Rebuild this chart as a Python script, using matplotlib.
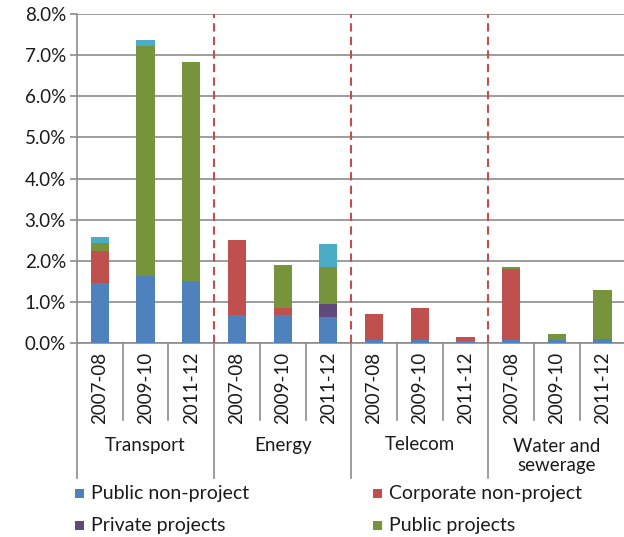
import matplotlib
matplotlib.use("Agg")
import matplotlib.pyplot as plt
from matplotlib.patches import Rectangle
from matplotlib.lines import Line2D
import numpy as np

plt.rcParams['font.family'] = ['Lato', 'DejaVu Sans']

sectors = ["Transport", "Energy", "Telecom", "Water and\nsewerage"]
periods = ["2007-08", "2009-10", "2011-12"]

public_nonproject = [1.45, 1.62, 1.50, 0.69, 0.68, 0.63, 0.08, 0.08, 0.05, 0.08, 0.07, 0.10]
corporate_nonproject = [0.79, 0.00, 0.00, 1.82, 0.17, 0.00, 0.63, 0.78, 0.10, 1.73, 0.00, 0.00]
private_projects = [0.00, 0.00, 0.00, 0.00, 0.00, 0.32, 0.00, 0.00, 0.00, 0.00, 0.00, 0.00]
public_projects = [0.19, 5.60, 5.33, 0.00, 1.04, 0.91, 0.00, 0.00, 0.00, 0.03, 0.14, 1.20]
other = [0.14, 0.15, 0.00, 0.00, 0.00, 0.55, 0.00, 0.00, 0.00, 0.00, 0.00, 0.00]

series = [public_nonproject, corporate_nonproject, private_projects, public_projects, other]
series_names = ["Public non-project", "Corporate non-project", "Private projects", "Public projects", None]
colors = ["#4F81BD", "#C0504D", "#604A7B", "#77933C", "#4BACC6"]
yticks = [0, 1, 2, 3, 4, 5, 6, 7, 8]

W, H = 624, 537
fig = plt.figure(figsize=(W / 100, H / 100), dpi=100)
x0, ytop, ybot = 77, 14, 343
step = 45.7
ax = fig.add_axes([x0 / W, (H - ybot) / H, 12 * step / W, (ybot - ytop) / H])

n = len(public_nonproject)
x = np.arange(n) + 0.5
bottom = np.zeros(n)
for vals, col in zip(series, colors):
    v = np.array(vals)
    ax.bar(x, v, width=0.4, bottom=bottom, color=col, edgecolor='none', zorder=3)
    bottom += v

ax.set_xlim(0, n)
ax.set_ylim(0, 8)
ax.set_yticks(yticks)
ax.set_yticklabels(["%.1f%%" % t for t in yticks], fontsize=13.5, color="#1a1a1a")
ax.yaxis.grid(True, color="#8C8C8C", linewidth=1.2, zorder=0)
ax.set_axisbelow(True)
ax.tick_params(axis='y', length=5, width=1.2, color="#8C8C8C", pad=3, direction='out')
ax.set_xticks([])
for s in ['top', 'right']:
    ax.spines[s].set_visible(False)
ax.spines['left'].set_color("#8C8C8C")
ax.spines['left'].set_linewidth(1.2)
ax.spines['bottom'].set_color("#8C8C8C")
ax.spines['bottom'].set_linewidth(1.2)

# dashed sector separators
for b in [3, 6, 9]:
    ax.plot([b, b], [0, 8], color="#C0504D", linestyle=(0, (4, 2.5)), linewidth=1.5, zorder=4, clip_on=False)

# category axis separators and labels
trans = ax.get_xaxis_transform()
def fy(py):
    return -(py - ybot) / (ybot - ytop)

for i in range(n + 1):
    low = 478 if i % 3 == 0 else 420
    ax.add_line(Line2D([i, i], [0, fy(low)], transform=trans, color="#8C8C8C", linewidth=1.2, clip_on=False))

for i in range(n):
    ax.text(i + 0.5, fy(388), periods[i % 3], transform=trans, rotation=90, ha='center', va='center',
            fontsize=13.5, color="#1a1a1a", clip_on=False)

for g, name in enumerate(sectors):
    ax.text(g * 3 + 1.5, fy(445 if '\n' not in name else 456), name, transform=trans, ha='center', va='center',
            fontsize=13.5, color="#1a1a1a", linespacing=1.15, clip_on=False)

# legend
leg_pos = [(75, 493), (373, 493), (75, 525), (373, 525)]
for (lx, ly), name, col in zip(leg_pos, series_names[:4], colors[:4]):
    fig.patches.append(Rectangle((lx / W, (H - ly - 4.5) / H), 9 / W, 9 / H, transform=fig.transFigure,
                                 facecolor=col, edgecolor='none'))
    fig.text((lx + 16) / W, (H - ly) / H, name, ha='left', va='center', fontsize=14, color="#1a1a1a")

fig.savefig("out.png", dpi=100)
